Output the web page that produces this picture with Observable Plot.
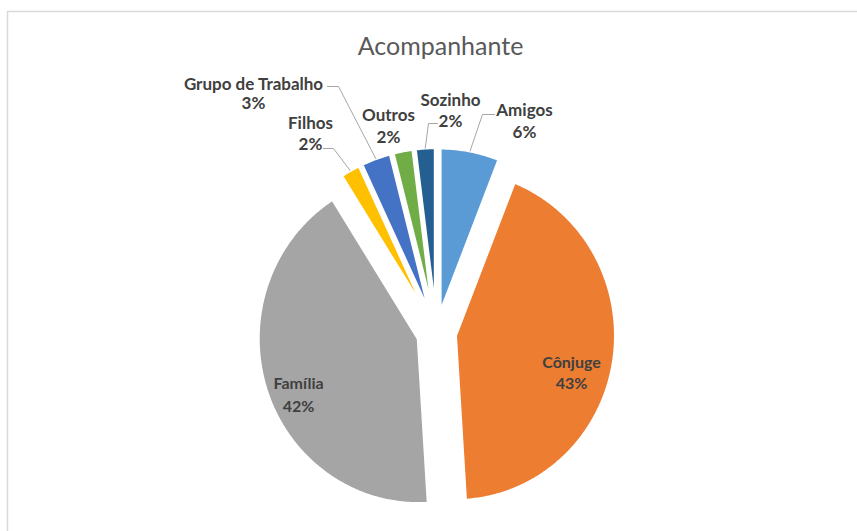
<!DOCTYPE html>
<html>
<head>
<meta charset="utf-8">
<script src="https://cdn.jsdelivr.net/npm/d3@7"></script>
<script src="https://cdn.jsdelivr.net/npm/@observablehq/plot@0.6"></script>
<style>
  html, body { margin: 0; padding: 0; background: #fff; overflow: hidden; }
  #chart svg { display: block; }
</style>
</head>
<body>
<div id="chart"></div>
<script>
// ---- data ----
const categories = ["Amigos", "Cônjuge", "Família", "Filhos", "Grupo de Trabalho", "Outros", "Sozinho"];
const shares = [6, 43, 42, 2, 3, 2, 2]; // percent
const title = "Acompanhante";

// ---- style / layout (kept apart from data) ----
const palette = ["#5B9BD5", "#ED7D31", "#A5A5A5", "#FFC000", "#4472C4", "#70AD47", "#255E91"];
const W = 857, H = 531;
const CX = 436, CY = 332, RX = 160, RY = 165, EXPLODE = 0.12;
// label anchor (center x, baseline of first line), inside flag, leader start / elbow
const labelLayout = {
  "Amigos":            {x: 524, y: 115, gap: 22, leader: [[494, 114], [482, 114]]},
  "Cônjuge":           {x: 571, y: 367, gap: 21, inside: true},
  "Família":           {x: 298, y: 388, gap: 23, inside: true},
  "Filhos":            {x: 310, y: 128, gap: 21, leader: [[323, 148], [333, 148]]},
  "Grupo de Trabalho": {x: 253, y: 89,  gap: 19, leader: [[327, 86], [338, 86]]},
  "Outros":            {x: 388, y: 120, gap: 22},
  "Sozinho":           {x: 450, y: 105, gap: 21, leader: [[437, 123], [428, 123]]}
};

// ---- build slice polygons from the data ----
const rows = categories.map((name, i) => ({name, value: shares[i]}));
const arcs = d3.pie().sort(null).value(d => d.value).startAngle(0).endAngle(2 * Math.PI)(rows);
const toPx = (ux, uy) => [CX + RX * ux, CY + RY * uy];

const slices = arcs.map(a => {
  const mid = (a.startAngle + a.endAngle) / 2;
  const ox = EXPLODE * Math.sin(mid), oy = -EXPLODE * Math.cos(mid);
  const pts = [];
  const [tx, ty] = toPx(ox, oy);
  pts.push({name: a.data.name, x: tx, y: ty});
  const n = Math.max(4, Math.ceil((a.endAngle - a.startAngle) / 0.01));
  for (let k = 0; k <= n; k++) {
    const t = a.startAngle + (a.endAngle - a.startAngle) * k / n;
    const [px, py] = toPx(ox + Math.sin(t), oy - Math.cos(t));
    pts.push({name: a.data.name, x: px, y: py});
  }
  pts.push({name: a.data.name, x: tx, y: ty}); // close the outline
  const [mx, my] = toPx(ox + Math.sin(mid), oy - Math.cos(mid));
  return {name: a.data.name, value: a.data.value, pts, outer: [mx, my]};
});

// labels
const nameLabels = slices.map(s => ({...labelLayout[s.name], text: s.name, inside: !!labelLayout[s.name].inside}));
const pctLabels = slices.map(s => {
  const L = labelLayout[s.name];
  return {x: L.x, y: L.y + L.gap, text: `${s.value}%`, inside: !!L.inside};
});

// leader lines: label elbow to the slice's outer mid point
const leaders = [];
slices.forEach(s => {
  const L = labelLayout[s.name];
  if (!L.leader) return;
  L.leader.forEach(([x, y]) => leaders.push({name: s.name, x, y}));
  leaders.push({name: s.name, x: s.outer[0], y: s.outer[1]});
});

const font = "Lato, 'Open Sans', 'DejaVu Sans', sans-serif";

const chart = Plot.plot({
  width: W,
  height: H,
  margin: 0,
  x: {domain: [0, W], range: [0, W], axis: null},
  y: {domain: [0, H], range: [0, H], axis: null},
  style: {fontFamily: font, background: "#fff"},
  marks: [
    Plot.ruleX([7], {y1: 11, y2: H, stroke: "#d9d9d9", strokeWidth: 1.5}),
    Plot.ruleY([11], {x1: 7, x2: W, stroke: "#d9d9d9", strokeWidth: 1.5}),
    ...slices.map(s => Plot.line(s.pts, {
      x: "x", y: "y",
      fill: palette[categories.indexOf(s.name)],
      stroke: "#ffffff", strokeWidth: 3, strokeLinejoin: "round"
    })),
    Plot.line(leaders, {x: "x", y: "y", z: "name", stroke: "#a6a6a6", strokeWidth: 1}),
    Plot.text([title], {x: 440, y: 54, text: d => d, fontSize: 25, fill: "#595959", textAnchor: "middle", lineAnchor: "bottom"}),
    Plot.text(nameLabels, {x: "x", y: "y", text: "text", fontSize: d => d.inside ? 16 : 17, fontWeight: "bold", fill: "#404040", textAnchor: "middle", lineAnchor: "bottom"}),
    Plot.text(pctLabels, {x: "x", y: "y", text: "text", fontSize: d => d.inside ? 16 : 17, fontWeight: "bold", fill: "#404040", textAnchor: "middle", lineAnchor: "bottom"})
  ]
});
document.getElementById("chart").appendChild(chart);
</script>
</body>
</html>
